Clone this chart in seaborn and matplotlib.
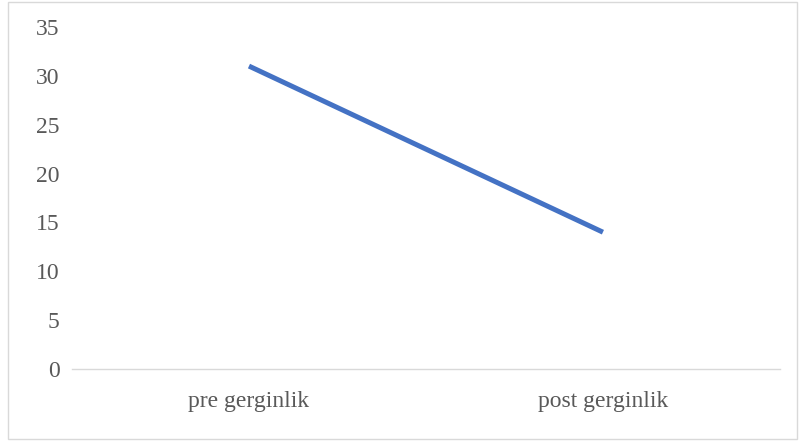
import matplotlib
matplotlib.use("Agg")
import matplotlib.pyplot as plt
from matplotlib.patches import Rectangle
import seaborn as sns
import pandas as pd

categories = ["pre gerginlik", "post gerginlik"]
values = [31, 14]
y_ticks = [0, 5, 10, 15, 20, 25, 30, 35]

sns.set_theme(style="white")
plt.rcParams["font.family"] = ["Liberation Serif", "DejaVu Serif"]

df = pd.DataFrame({"stage": categories, "score": values})

fig = plt.figure(figsize=(7.99, 4.41), dpi=100)
ax = fig.add_axes([0.0901, 0.1633, 0.8860, 0.7755])

sns.lineplot(data=df, x="stage", y="score", sort=False, ax=ax,
             color="#4472C4", linewidth=3.6, solid_capstyle="butt")

ax.set_xlim(-0.5, 1.5)
ax.set_ylim(0, 35)
ax.set_yticks(y_ticks)
ax.set_yticklabels([str(t) for t in y_ticks])
ax.set_xlabel("")
ax.set_ylabel("")

for side in ["top", "right", "left"]:
    ax.spines[side].set_visible(False)
ax.spines["bottom"].set_color("#D9D9D9")
ax.spines["bottom"].set_linewidth(1.0)

ax.tick_params(axis="both", length=0, labelsize=17, colors="#595959")
ax.tick_params(axis="y", pad=9)
ax.tick_params(axis="x", pad=16)

# Outer chart frame
fig.patches.append(Rectangle((0.010, 0.005), 0.987, 0.99, transform=fig.transFigure,
                             fill=False, edgecolor="#D9D9D9", linewidth=1.0))

fig.savefig("out.png", dpi=100, facecolor="white")
